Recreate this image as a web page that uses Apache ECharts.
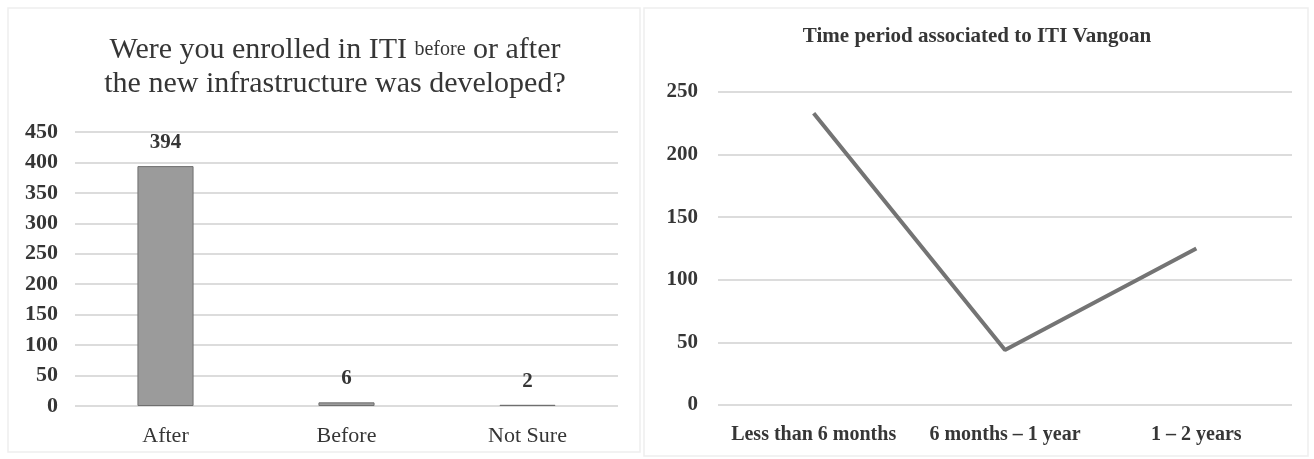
<!DOCTYPE html>
<html>
<head>
<meta charset="utf-8">
<script src="https://cdn.jsdelivr.net/npm/echarts@6/dist/echarts.min.js"></script>
<style>
  html, body { margin: 0; padding: 0; background: #ffffff; }
  #chart { width: 1314px; height: 459px; }
</style>
</head>
<body>
<div id="chart"></div>
<script>
// Enrolment timing (bar chart, left)
const enrolCategories = ['After', 'Before', 'Not Sure'];
const enrolCounts = [394, 6, 2];
const enrolTicks = { min: 0, max: 450, interval: 50 };

// Time period associated to ITI Vangoan (line chart, right)
const periodCategories = ['Less than 6 months', '6 months \u2013 1 year', '1 \u2013 2 years'];
const periodCounts = [233, 44, 125];
const periodTicks = { min: 0, max: 250, interval: 50 };

const TEXT = '#363636';
const SERIF = 'Liberation Serif';
const GRID_LINE = { show: true, lineStyle: { color: '#dcdcdc', width: 2 } };

const chart = echarts.init(document.getElementById('chart'), null, { renderer: 'canvas' });

chart.setOption({
  backgroundColor: '#ffffff',
  animation: false,
  title: [
    {
      text: '{a|Were you enrolled in ITI }{b|before}{a| or after}\n{a|the new infrastructure was developed?}',
      left: 330,
      top: 28,
      textAlign: 'center',
      textStyle: {
        fontWeight: 'normal',
        rich: {
          a: { fontFamily: SERIF, fontWeight: 'normal', fontSize: 30, color: TEXT, lineHeight: 34 },
          b: { fontFamily: SERIF, fontWeight: 'normal', fontSize: 20, color: TEXT, lineHeight: 34 }
        }
      }
    },
    {
      text: 'Time period associated to ITI Vangoan',
      left: 972,
      top: 21,
      textAlign: 'center',
      textStyle: { fontFamily: SERIF, fontWeight: 'bold', fontSize: 21, color: TEXT }
    }
  ],
  grid: [
    { left: 75, top: 132, width: 543, height: 274 },
    { left: 718, top: 92, width: 574, height: 313 }
  ],
  xAxis: [
    {
      type: 'category', gridIndex: 0, data: enrolCategories,
      axisLine: { show: false }, axisTick: { show: false },
      axisLabel: { interval: 0, margin: 19, fontFamily: SERIF, fontSize: 22, color: TEXT }
    },
    {
      type: 'category', gridIndex: 1, data: periodCategories,
      axisLine: { show: false }, axisTick: { show: false },
      axisLabel: { interval: 0, margin: 20, fontFamily: SERIF, fontWeight: 'bold', fontSize: 20, color: TEXT }
    }
  ],
  yAxis: [
    {
      type: 'value', gridIndex: 0, min: enrolTicks.min, max: enrolTicks.max, interval: enrolTicks.interval,
      axisLine: { show: false }, axisTick: { show: false }, splitLine: GRID_LINE,
      axisLabel: { margin: 17, fontFamily: SERIF, fontWeight: 'bold', fontSize: 22, color: TEXT }
    },
    {
      type: 'value', gridIndex: 1, min: periodTicks.min, max: periodTicks.max, interval: periodTicks.interval,
      axisLine: { show: false }, axisTick: { show: false }, splitLine: GRID_LINE,
      axisLabel: { margin: 20, fontFamily: SERIF, fontWeight: 'bold', fontSize: 21, color: TEXT }
    }
  ],
  series: [
    {
      type: 'bar', xAxisIndex: 0, yAxisIndex: 0, data: enrolCounts,
      barWidth: '31%',
      itemStyle: { color: '#9b9b9b', borderColor: '#6f6f6f', borderWidth: 1 },
      label: {
        show: true, position: 'top', distance: 13,
        fontFamily: SERIF, fontWeight: 'bold', fontSize: 21, color: TEXT
      }
    },
    {
      type: 'line', xAxisIndex: 1, yAxisIndex: 1, data: periodCounts,
      symbol: 'none',
      lineStyle: { color: '#747474', width: 4 }
    }
  ],
  graphic: [
    { type: 'rect', shape: { x: 8, y: 8, width: 632, height: 444 }, style: { fill: 'none', stroke: '#eeeeee', lineWidth: 1.5 }, silent: true },
    { type: 'rect', shape: { x: 644, y: 8, width: 664, height: 448 }, style: { fill: 'none', stroke: '#eeeeee', lineWidth: 1.5 }, silent: true }
  ]
});
</script>
</body>
</html>
